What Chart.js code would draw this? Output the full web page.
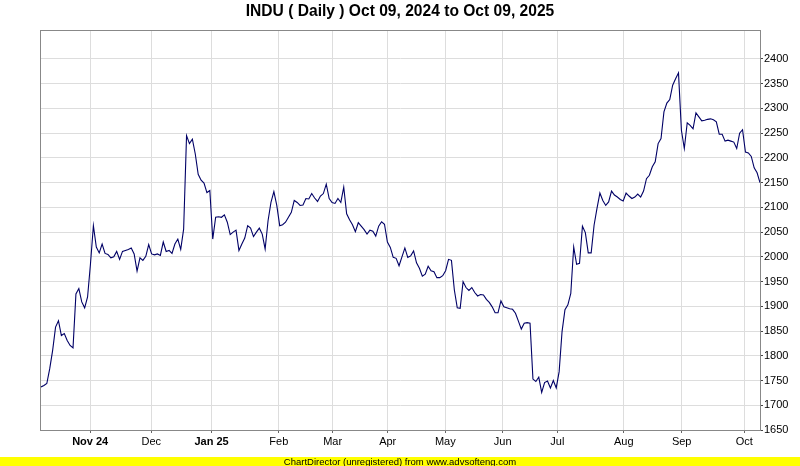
<!DOCTYPE html>
<html>
<head>
<meta charset="utf-8">
<title>INDU Daily</title>
<script src="https://cdn.jsdelivr.net/npm/chart.js@4.4.1/dist/chart.umd.min.js"></script>
<style>
  html, body { margin: 0; padding: 0; background: #fff; }
  canvas { display: block; }
</style>
</head>
<body>
<canvas id="induChart" width="800" height="466"></canvas>
<script>
const titleText = 'INDU ( Daily ) Oct 09, 2024 to Oct 09, 2025';
const footerText = 'ChartDirector (unregistered) from www.advsofteng.com';

// daily closes
const closes = [
    1737, 1740, 1744, 1774, 1811, 1858, 1871, 1841, 1845, 1831,
    1821, 1816, 1925, 1936, 1909, 1897, 1919, 1986, 2063, 2020,
    2008, 2026, 2007, 2005, 1998, 2000, 2011, 1995, 2011, 2013,
    2015, 2018, 2006, 1971, 1998, 1993, 2001, 2025, 2006, 2004,
    2006, 2003, 2030, 2011, 2013, 2007, 2026, 2036, 2015, 2056,
    2245, 2229, 2238, 2208, 2167, 2155, 2149, 2130, 2134, 2036,
    2080, 2081, 2080, 2085, 2070, 2045, 2050, 2054, 2013, 2026,
    2038, 2063, 2058, 2041, 2050, 2058, 2046, 2016, 2073, 2110,
    2132, 2104, 2063, 2065, 2070, 2080, 2090, 2114, 2110, 2104,
    2105, 2118, 2117, 2128, 2119, 2112, 2123, 2128, 2147, 2118,
    2110, 2108, 2118, 2110, 2141, 2087, 2075, 2065, 2051, 2069,
    2062, 2055, 2046, 2054, 2052, 2042, 2062, 2071, 2066, 2030,
    2019, 1999, 1997, 1982, 2000, 2018, 1999, 2002, 2012, 1988,
    1977, 1961, 1965, 1981, 1972, 1970, 1958, 1958, 1962, 1972,
    1995, 1993, 1933, 1897, 1896, 1950, 1938, 1932, 1938, 1928,
    1921, 1924, 1923, 1914, 1908, 1899, 1887, 1887, 1911, 1899,
    1897, 1895, 1894, 1886, 1870, 1854, 1866, 1867, 1866, 1753,
    1748, 1757, 1726, 1746, 1749, 1735, 1750, 1735, 1768, 1849,
    1893, 1903, 1926, 2020, 1985, 1987, 2062, 2049, 2008, 2008,
    2064, 2098, 2129, 2114, 2104, 2111, 2133, 2125, 2121, 2116,
    2113, 2129, 2123, 2118, 2121, 2127, 2121, 2133, 2158, 2165,
    2182, 2192, 2229, 2239, 2293, 2311, 2318, 2347, 2360, 2372,
    2256, 2219, 2271, 2266, 2259, 2291, 2283, 2275, 2276, 2278,
    2279, 2277, 2273, 2248, 2248, 2234, 2236, 2234, 2232, 2219,
    2250, 2257, 2212, 2210, 2203, 2180, 2170, 2150
];

// first session of each month, in session-index units
const monthTicks = [16.9, 37.9, 58.6, 81.7, 100.2, 119.1, 138.9, 158.6, 177.4, 200.2, 220.1, 241.6];
const monthLabels = ['Nov 24', 'Dec', 'Jan 25', 'Feb', 'Mar', 'Apr', 'May', 'Jun', 'Jul', 'Aug', 'Sep', 'Oct'];

const priceTicks = [1650, 1700, 1750, 1800, 1850, 1900, 1950, 2000, 2050, 2100, 2150, 2200, 2250, 2300, 2350, 2400];
const priceMin = 1650;
const priceMax = 2456.6;

const FONT = "'Liberation Sans', Arial, sans-serif";

// plot frame + title + yellow footer bar
const chartDecor = {
    id: 'chartDecor',
    beforeDatasetsDraw(chart) {
        const { ctx, chartArea: a } = chart;
        ctx.save();
        ctx.strokeStyle = '#888888';
        ctx.lineWidth = 1;
        ctx.strokeRect(Math.round(a.left) - 0.5, Math.round(a.top) - 0.5,
            Math.round(a.right - a.left) + 1, Math.round(a.bottom - a.top) + 1);
        ctx.restore();
    },
    afterDraw(chart) {
        const { ctx, width, height } = chart;
        ctx.save();
        ctx.fillStyle = '#000';
        ctx.font = 'bold 15.6px ' + FONT;
        ctx.textAlign = 'center';
        ctx.textBaseline = 'middle';
        ctx.fillText(titleText, width / 2, 12);

        ctx.fillStyle = '#ffff00';
        ctx.fillRect(0, 457, width, height - 457);
        ctx.fillStyle = '#000';
        ctx.font = '9.5px ' + FONT;
        ctx.fillText(footerText, width / 2, 462);
        ctx.restore();
    }
};

new Chart(document.getElementById('induChart'), {
    type: 'line',
    data: {
        datasets: [{
            label: 'INDU',
            data: closes.map((v, i) => ({ x: i, y: v })),
            borderColor: '#000066',
            borderWidth: 1.1,
            pointRadius: 0,
            tension: 0,
            fill: false
        }]
    },
    options: {
        responsive: false,
        animation: false,
        layout: { padding: { left: 41, top: 31, right: 0, bottom: 0 } },
        plugins: {
            legend: { display: false },
            tooltip: { enabled: false },
            title: { display: false }
        },
        scales: {
            x: {
                type: 'linear',
                min: 0,
                max: closes.length - 1,
                border: { display: false },
                grid: { color: '#dddddd', tickColor: '#666', tickLength: 3 },
                afterBuildTicks: s => { s.ticks = monthTicks.map(v => ({ value: v })); },
                afterFit: s => { s.height = 36; },
                ticks: {
                    autoSkip: false,
                    maxRotation: 0,
                    padding: 2,
                    color: '#000',
                    font: c => ({ family: FONT, size: 11, weight: /\d/.test(monthLabels[c.index] || '') ? 'bold' : 'normal' }),
                    callback: (v, i) => monthLabels[i]
                }
            },
            y: {
                position: 'right',
                min: priceMin,
                max: priceMax,
                border: { display: false },
                grid: { color: '#dddddd', tickColor: '#444', tickLength: 3 },
                afterBuildTicks: s => { s.ticks = priceTicks.map(v => ({ value: v })); },
                afterFit: s => { s.width = 40; },
                ticks: {
                    padding: 1,
                    color: '#000',
                    font: { family: FONT, size: 11 },
                    callback: v => String(v)
                }
            }
        }
    },
    plugins: [chartDecor]
});
</script>
</body>
</html>
